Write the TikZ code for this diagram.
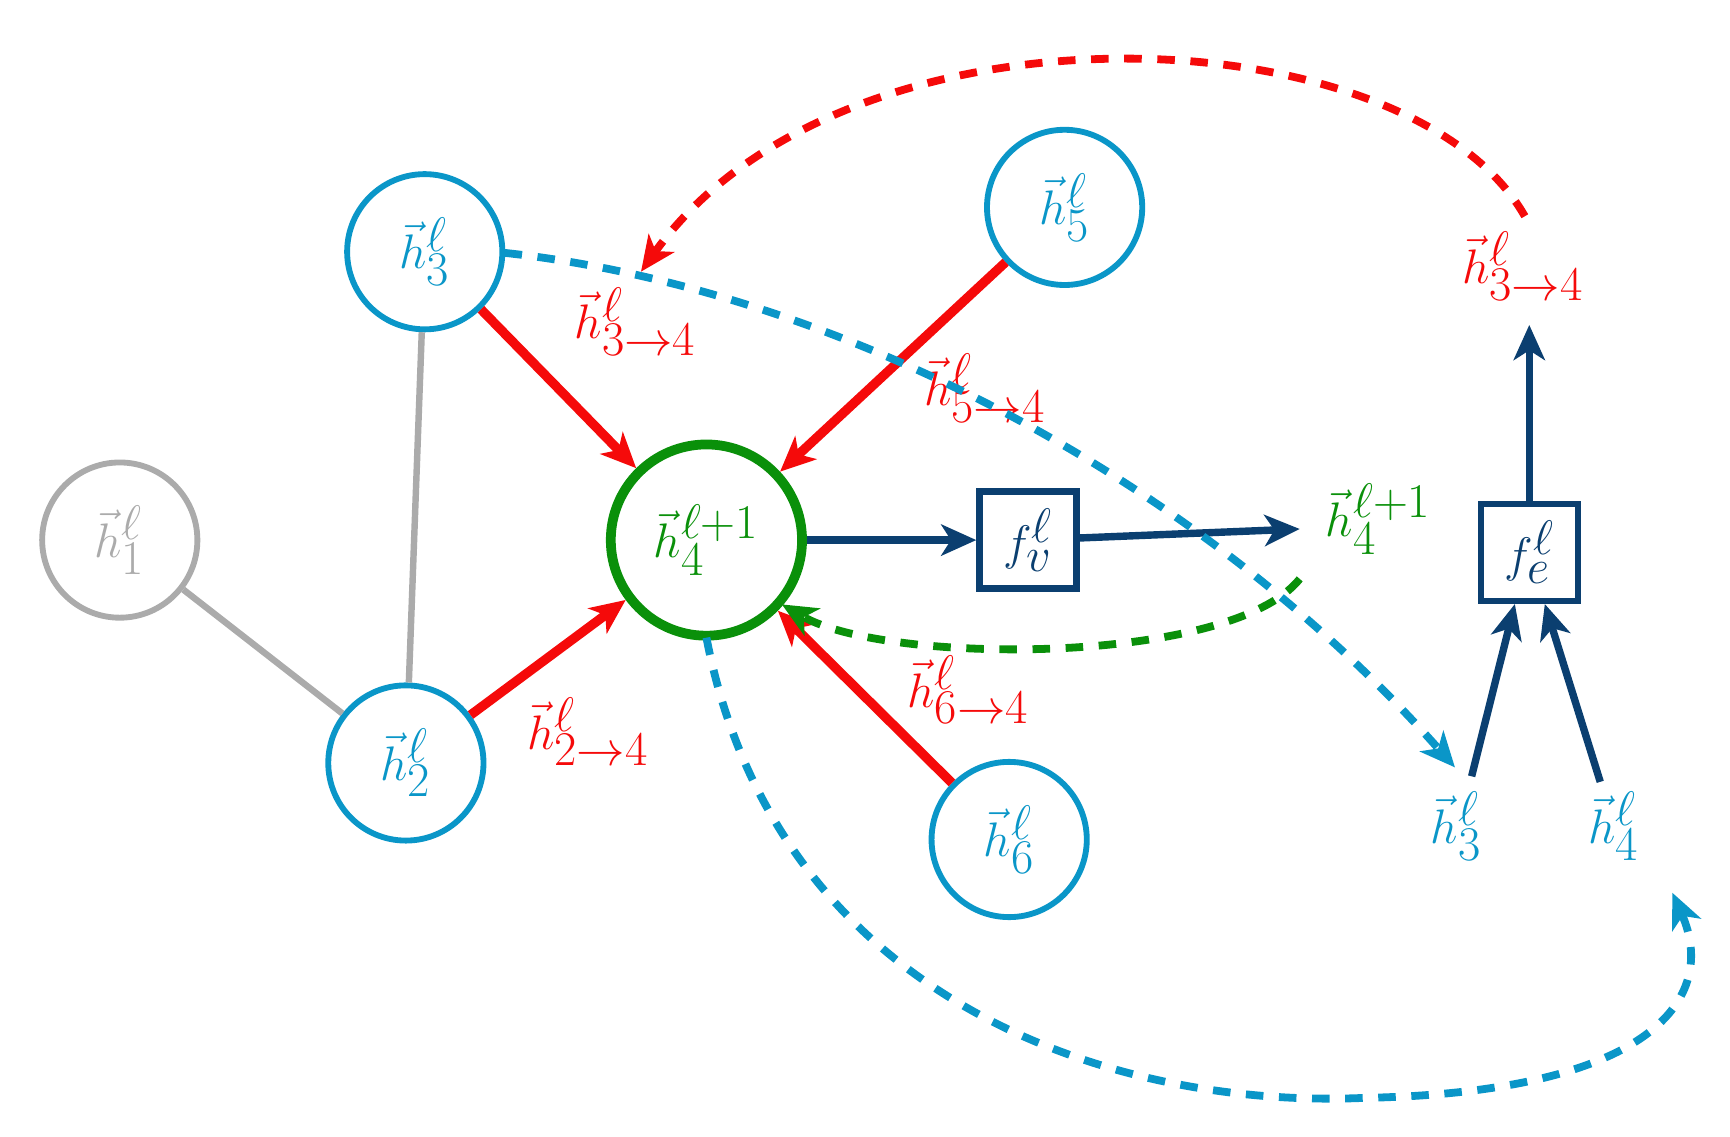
\documentclass[tikz,border=0pt]{standalone}
\usetikzlibrary{arrows.meta}
\definecolor{cblue}{HTML}{0A96C8}
\definecolor{cnavy}{HTML}{0B3F70}
\definecolor{cred}{HTML}{F50A0A}
\definecolor{cgreen}{HTML}{0A900A}
\definecolor{cgray}{HTML}{ABABAB}
\begin{document}
\begin{tikzpicture}[x=0.02cm,y=-0.02cm,
  every node/.style={font=\fontsize{35}{42}\selectfont},
  nd/.style={circle,draw=cblue,line width=3pt,minimum size=2.8cm,inner sep=0pt,text=cblue},
  box/.style={draw=cnavy,line width=3.3pt,minimum size=1.75cm,inner sep=0pt,text=cnavy},
  tip/.style={-{Stealth[length=18pt,width=16pt,inset=5pt]}},
  redarr/.style={tip,draw=cred,line width=4.8pt},
  navyarr/.style={tip,draw=cnavy,line width=3.8pt},
  dsh/.style={line width=4pt,dash pattern=on 9pt off 8pt},
  lbl/.style={inner sep=1pt}]
\useasboundingbox (0,0) rectangle (1560,1025);
\node[nd,draw=cgray,text=cgray] (h1) at (108,487) {$\vec{h}^{\ell}_{1}$};
\node[nd] (h3) at (383,227) {$\vec{h}^{\ell}_{3}$};
\node[nd] (h5) at (960,187) {$\vec{h}^{\ell}_{5}$};
\node[nd] (h2) at (366,688) {$\vec{h}^{\ell}_{2}$};
\node[nd] (h6) at (910,757) {$\vec{h}^{\ell}_{6}$};
\node[nd,draw=cgreen,text=cgreen,line width=5pt,minimum size=3.45cm] (h4) at (637,487) {$\vec{h}^{\ell+1}_{4}$};
\node[box] (fv) at (927,487) {$f^{\ell}_{v}$};
\node[box] (fe) at (1379,498) {$f^{\ell}_{e}$};
\node[lbl,text=cgreen] (o4) at (1243,468) {$\vec{h}^{\ell+1}_{4}$};
\node[lbl,text=cred] (o34) at (1373,240) {$\vec{h}^{\ell}_{3\to4}$};
\node[lbl,text=cblue] (i3) at (1313,745) {$\vec{h}^{\ell}_{3}$};
\node[lbl,text=cblue] (i4) at (1455,745) {$\vec{h}^{\ell}_{4}$};
\node[lbl,text=cred] (l34) at (573,290) {$\vec{h}^{\ell}_{3\to4}$};
\node[lbl,text=cred] (l54) at (888,350) {$\vec{h}^{\ell}_{5\to4}$};
\node[lbl,text=cred] (l24) at (530,660) {$\vec{h}^{\ell}_{2\to4}$};
\node[lbl,text=cred] (l64) at (873,622) {$\vec{h}^{\ell}_{6\to4}$};
\coordinate (fvend) at (1172,477);
\coordinate (gs) at (1172,522);
\coordinate (ge) at (705,545);
\coordinate (bs) at (455,228);
\coordinate (be) at (1312,692);
\coordinate (rs) at (1375,195);
\coordinate (re) at (578,245);
\coordinate (ds) at (637,575);
\coordinate (dm) at (1230,990);
\coordinate (de) at (1508,805);
\coordinate (oup) at (1379,293);
\coordinate (a3) at (1327,700);
\coordinate (a4) at (1443,705);
\draw[cgray,line width=3.3pt] (h1) -- (h2);
\draw[cgray,line width=3.3pt] (h3) -- (h2);
\draw[redarr] (h3) -- (h4);
\draw[redarr] (h5) -- (h4);
\draw[redarr] (h2) -- (h4);
\draw[redarr] (h6) -- (h4);
\draw[navyarr] (h4) -- (fv);
\draw[navyarr] (fv) -- (fvend);
\draw[navyarr] (fe) -- (oup);
\draw[navyarr] (a3) -- (fe.south west -| 1366,0);
\draw[navyarr] (a4) -- (fe.south east -| 1393,0);
\draw[dsh,cgreen,tip] (gs) .. controls (1110,600) and (800,600) .. (ge);
\draw[dsh,cblue,tip] (bs) .. controls (750,260) and (1080,430) .. (be);
\draw[dsh,cred,tip] (rs) .. controls (1270,10) and (760,-10) .. (re);
\draw[dsh,cblue,tip] (ds) .. controls (700,900) and (1000,1000) .. (dm) .. controls (1490,985) and (1550,900) .. (de);
\end{tikzpicture}
\end{document}
